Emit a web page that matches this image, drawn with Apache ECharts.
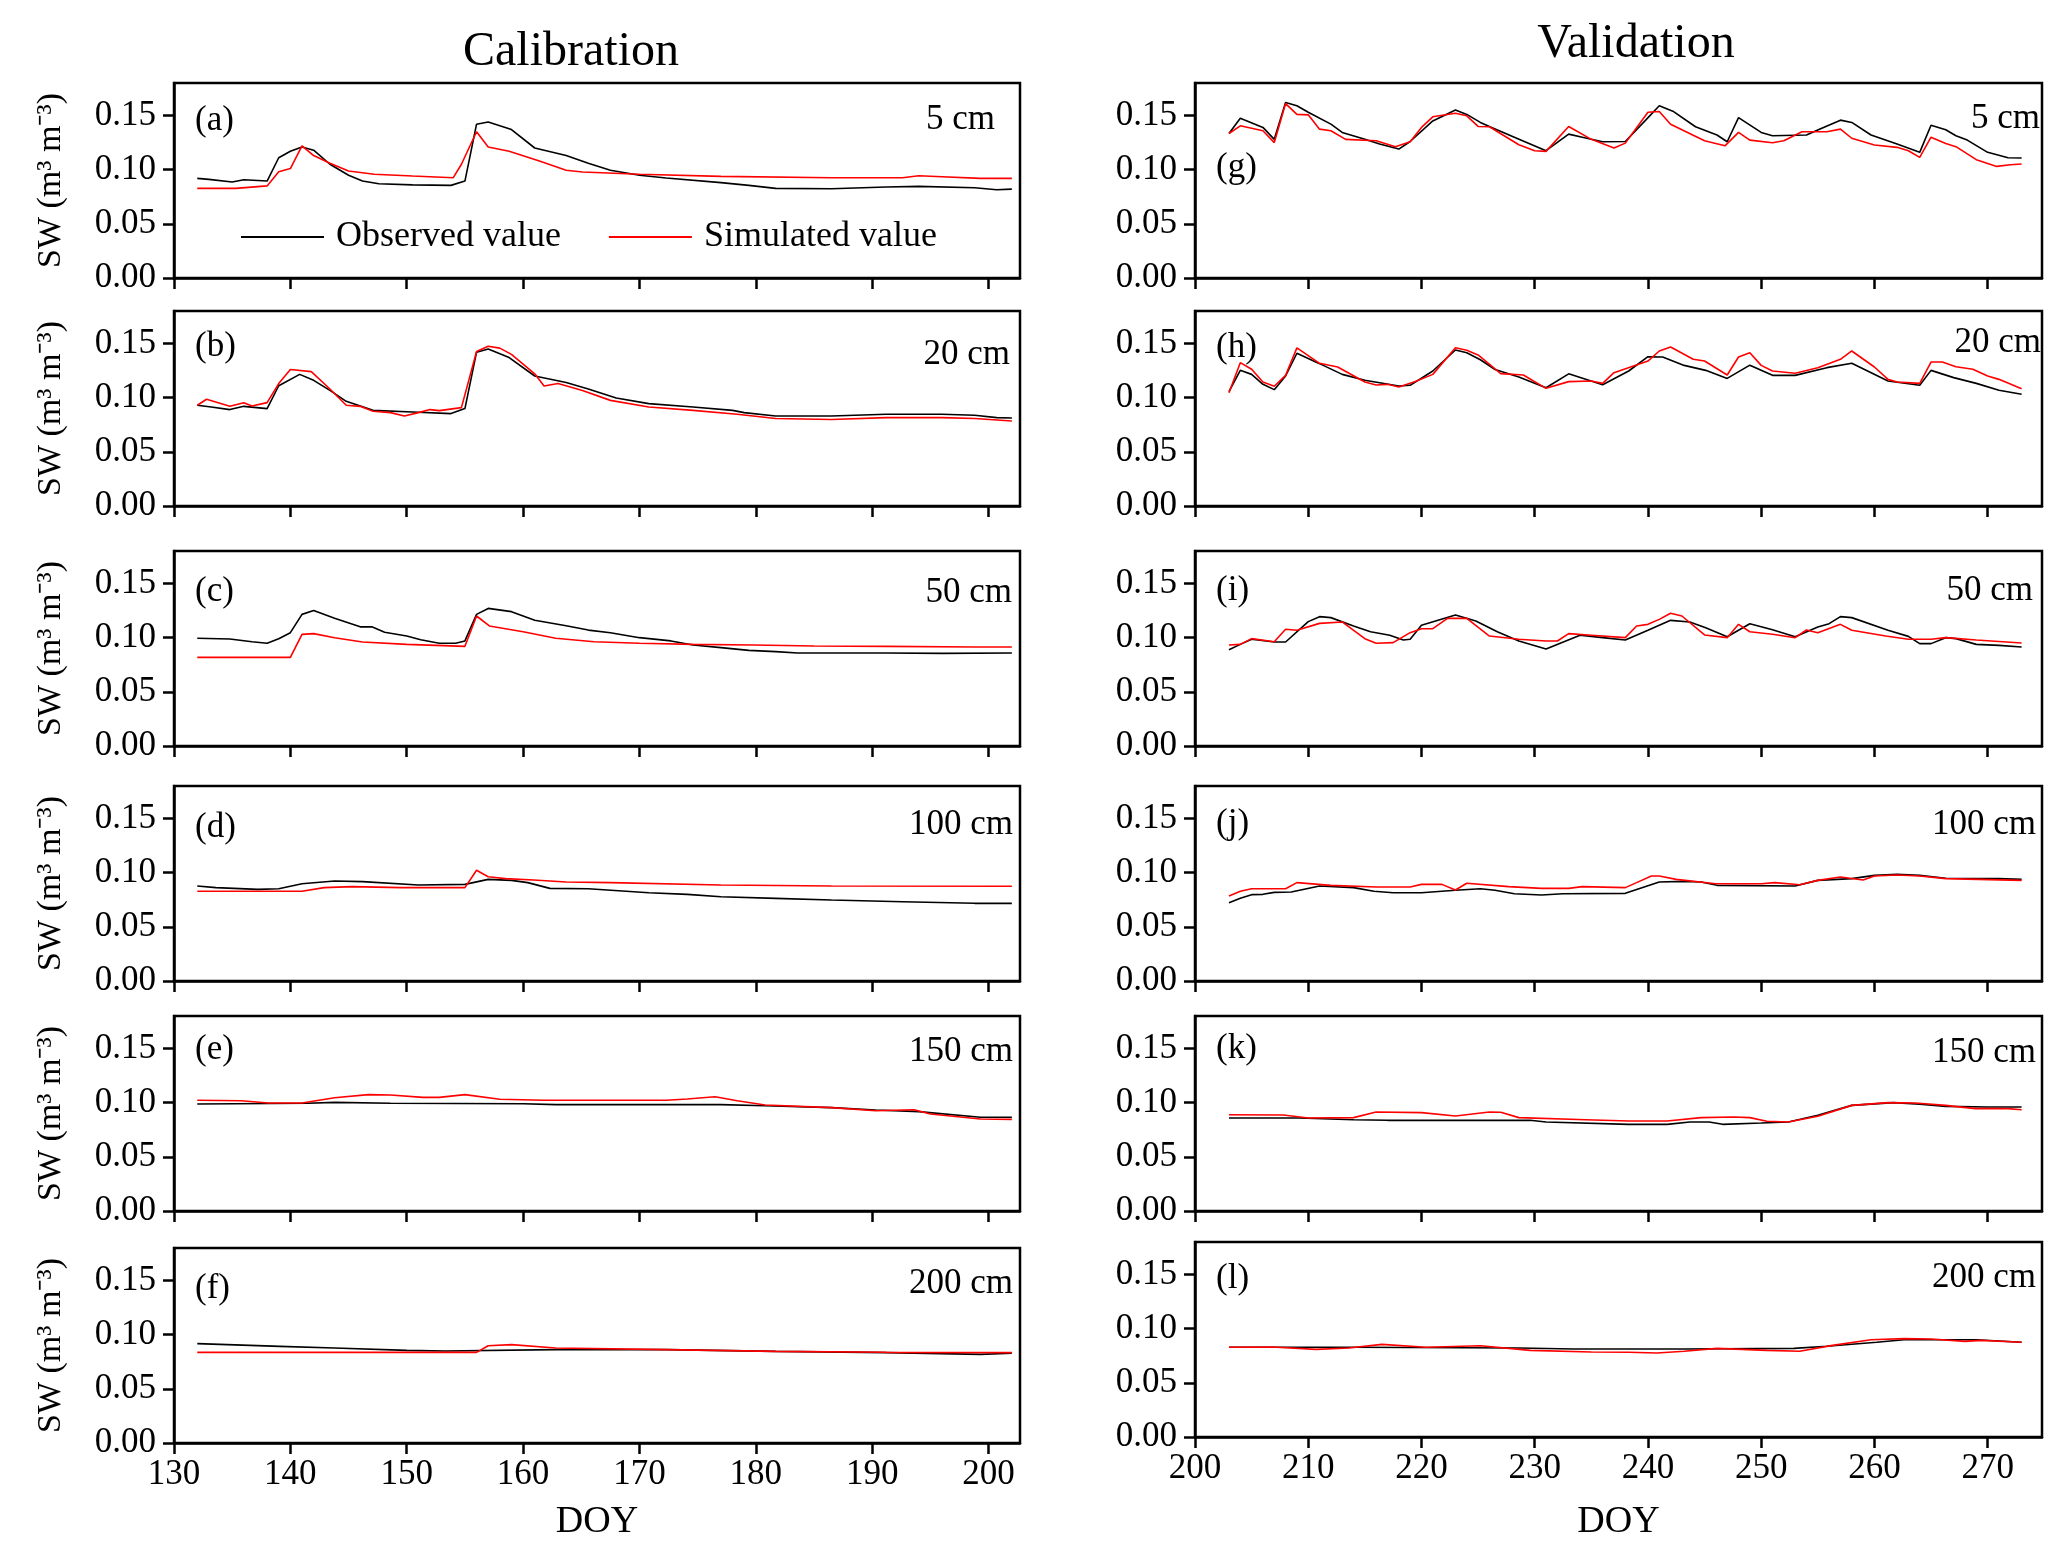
<!DOCTYPE html>
<html><head><meta charset="utf-8">
<script src="https://cdn.jsdelivr.net/npm/echarts@6/dist/echarts.min.js"></script>
<style>html,body{margin:0;padding:0;background:#fff}#c{width:2067px;height:1558px}</style>
</head><body><div id="c"></div>
<script>
// ---------- tick labels & categories ----------
const calDOYTicks = [130,140,150,160,170,180,190,200];
const valDOYTicks = [200,210,220,230,240,250,260,270];
const swTicks = [0,0.05,0.10,0.15];
const depths = ['5 cm','20 cm','50 cm','100 cm','150 cm','200 cm'];
const calLetters = ['(a)','(b)','(c)','(d)','(e)','(f)'];
const valLetters = ['(g)','(h)','(i)','(j)','(k)','(l)'];

// ---------- Calibration: observed / simulated [DOY, SW] ----------
const calObs5 = [[132,0.092],[133,0.091],[135,0.0886],[136,0.0907],[138,0.0895],[139,0.111],[140,0.117],[141,0.121],[142,0.118],[143.4,0.105],[145,0.0948],[146.2,0.0895],[147.6,0.087],[150.5,0.086],[153.8,0.0855],[155,0.0895],[156,0.142],[157,0.144],[159,0.137],[161,0.120],[163.7,0.113],[165.6,0.106],[167.5,0.0994],[170,0.0948],[172.3,0.0923],[177,0.088],[179.4,0.0855],[181.7,0.0827],[186.5,0.0824],[191.2,0.084],[194,0.0846],[198.8,0.0833],[200.7,0.0815],[202,0.082]];
const calSim5 = [[132,0.0827],[135.3,0.0827],[138,0.085],[139,0.098],[140,0.101],[141,0.122],[142,0.113],[143.4,0.106],[145,0.0988],[147.2,0.0957],[150.5,0.0941],[154,0.0926],[154.7,0.105],[156,0.135],[157,0.121],[158.8,0.117],[161.4,0.108],[163.7,0.0994],[165.1,0.0978],[170,0.0957],[177,0.0938],[186.5,0.0926],[192.6,0.0926],[194,0.0944],[196,0.0935],[199.3,0.092],[202,0.092]];
const calObs20 = [[132,0.093],[133.2,0.0914],[134.8,0.089],[136,0.092],[138,0.0899],[139,0.111],[140.8,0.1215],[142,0.116],[143.4,0.1067],[144.8,0.0966],[147.1,0.0883],[150.5,0.0868],[153.8,0.0853],[155,0.0899],[156,0.142],[157,0.145],[158.8,0.137],[161,0.120],[163.7,0.114],[165.6,0.108],[168,0.0997],[170.8,0.0945],[174.6,0.0914],[178,0.0883],[179,0.0862],[181.7,0.0831],[186.5,0.0831],[191.2,0.0847],[196,0.0847],[198.8,0.0837],[200.7,0.0816],[202,0.0813]];
const calSim20 = [[132,0.093],[132.8,0.0985],[134.8,0.092],[136,0.0954],[136.7,0.0923],[138,0.0954],[139,0.113],[140,0.126],[141.8,0.124],[143.4,0.108],[144.8,0.093],[146,0.092],[147.1,0.0874],[148.6,0.0862],[149.8,0.0831],[151,0.0862],[152,0.089],[152.8,0.088],[154.7,0.0908],[156,0.1426],[157,0.1475],[158,0.1457],[159,0.140],[161,0.122],[161.8,0.1107],[163,0.113],[165.1,0.1067],[167.5,0.0975],[170.8,0.0914],[174.6,0.0883],[178.4,0.0847],[181.7,0.0807],[186.5,0.0798],[191.2,0.0816],[196,0.0816],[198.8,0.0807],[202,0.0785]];
const calObs50 = [[132,0.0994],[134.8,0.0988],[136.7,0.0963],[138,0.0948],[139,0.099],[140,0.1046],[141,0.1215],[142,0.125],[143.8,0.118],[146,0.110],[147,0.110],[148.1,0.105],[150,0.1015],[151.2,0.098],[152.8,0.0948],[154.2,0.0948],[155,0.097],[156,0.1215],[157,0.127],[159,0.124],[161,0.116],[163.7,0.111],[165.6,0.107],[167.5,0.1046],[170,0.100],[172.7,0.097],[174.6,0.0932],[177,0.0908],[179.4,0.0883],[181.7,0.0871],[183.6,0.0858],[191.2,0.0858],[196,0.0855],[202,0.0858]];
const calSim50 = [[132,0.0818],[140,0.0818],[141,0.103],[142,0.1037],[143.8,0.100],[146.2,0.096],[150,0.0938],[155,0.092],[156,0.12],[157.1,0.1108],[160,0.1055],[162.8,0.0994],[166.1,0.0963],[170,0.0948],[174.6,0.0938],[179.8,0.0932],[185,0.0923],[191.2,0.092],[198.8,0.0914],[202,0.0914]];
const calObs100 = [[132,0.0877],[133.6,0.0862],[137.2,0.0846],[139,0.0852],[141,0.0898],[143.8,0.0923],[146.2,0.0917],[151,0.0886],[155,0.0892],[157,0.0938],[159,0.0929],[160.4,0.0908],[162.3,0.0855],[165.6,0.0852],[170.8,0.0815],[174.1,0.080],[177,0.0778],[181.7,0.0763],[186.5,0.0748],[192.6,0.0732],[198.8,0.0717],[202,0.0717]];
const calSim100 = [[132,0.0828],[141,0.0828],[142.9,0.0862],[145.3,0.0871],[149.5,0.0862],[155,0.0862],[156,0.1022],[157,0.0963],[158.5,0.0945],[160.9,0.0932],[163.7,0.0914],[167.5,0.0908],[177,0.0886],[186.5,0.0877],[202,0.0874]];
const calObs150 = [[132,0.0988],[141.5,0.0994],[143.8,0.1003],[148.6,0.0994],[160,0.099],[162.8,0.0982],[177,0.0982],[180.8,0.0972],[186.5,0.0954],[190.3,0.0932],[194,0.0917],[199.3,0.0865],[202,0.0865]];
const calSim150 = [[132,0.1022],[135.8,0.1018],[138.1,0.0997],[141,0.0997],[143.8,0.1046],[146.7,0.1074],[148.6,0.1071],[151.4,0.1049],[152.8,0.1049],[155,0.1074],[158,0.1031],[161.8,0.1022],[172.3,0.1022],[174.1,0.1034],[176.5,0.1055],[178.4,0.1018],[180.8,0.0978],[186.5,0.0954],[190.3,0.0926],[193.6,0.0935],[195,0.0895],[199.3,0.0849],[202,0.0846]];
const calObs200 = [[132,0.0917],[139.1,0.0892],[143.8,0.0877],[150,0.0855],[153.3,0.0849],[162.8,0.0862],[172.3,0.0862],[181.7,0.0846],[191.2,0.0834],[199.3,0.0818],[202,0.0828]];
const calSim200 = [[132,0.0837],[156,0.0837],[157,0.0898],[159,0.0908],[162.8,0.0877],[172.3,0.0862],[181.7,0.0846],[191.2,0.0837],[202,0.0834]];

// ---------- Validation: observed / simulated [DOY, SW] ----------
const valObs5 = [[203,0.1334],[204,0.1475],[206,0.139],[207,0.128],[208,0.162],[209,0.159],[210,0.153],[212,0.142],[213,0.1344],[215,0.128],[216.3,0.1236],[218,0.119],[219,0.126],[221,0.145],[223,0.155],[224,0.151],[225.2,0.1436],[226.2,0.139],[228.2,0.130],[231,0.1175],[233,0.1328],[234.2,0.130],[236,0.1258],[238,0.126],[239.8,0.1457],[241,0.159],[242.2,0.154],[244.2,0.1396],[246.1,0.132],[247,0.1258],[248,0.148],[250,0.1344],[251,0.1313],[254,0.132],[255.3,0.138],[257,0.1457],[258,0.1436],[259.7,0.132],[262,0.1236],[264,0.116],[265,0.141],[266.3,0.1368],[267.2,0.1313],[268.2,0.1273],[270,0.116],[271.8,0.111],[273,0.1107]];
const valSim5 = [[203,0.1334],[204,0.1405],[206,0.1359],[207,0.125],[208,0.161],[209,0.151],[210,0.1506],[211,0.1374],[212,0.1359],[213.3,0.128],[216,0.1267],[217.7,0.1212],[219,0.1258],[220,0.139],[221,0.1488],[223,0.152],[224,0.1497],[225,0.1399],[226,0.1396],[228.6,0.123],[230,0.1175],[231,0.1169],[233,0.1399],[235,0.128],[237,0.12],[238,0.1245],[240,0.153],[241,0.1537],[242,0.142],[245,0.1267],[246.8,0.122],[248,0.1344],[249,0.1273],[251,0.1248],[252,0.1267],[253.6,0.135],[255.8,0.135],[257,0.1374],[258,0.129],[260,0.1227],[262,0.1206],[263,0.1175],[264,0.1113],[265,0.130],[266.3,0.1242],[267.2,0.1212],[269,0.1092],[270.8,0.103],[272,0.1046],[273,0.1052]];
const valObs20 = [[203,0.1055],[204,0.1252],[205,0.1215],[206,0.1123],[207,0.1074],[208,0.12],[209,0.141],[211,0.1314],[213,0.1215],[215,0.116],[218,0.1108],[219,0.1114],[221,0.1246],[223,0.144],[224,0.1415],[225.2,0.135],[226.5,0.126],[228.6,0.119],[231,0.1092],[233,0.122],[236,0.112],[238.3,0.1246],[240,0.1378],[241.3,0.1375],[243.2,0.1298],[245.1,0.1252],[247,0.1178],[249,0.130],[251,0.1206],[253,0.1206],[255.8,0.1277],[258,0.1317],[261.2,0.1154],[264,0.1114],[265,0.1252],[267,0.1185],[269,0.1132],[271,0.1068],[273,0.1031]];
const valSim20 = [[203,0.1046],[204,0.1323],[205,0.1262],[206,0.1145],[207,0.1105],[208,0.1206],[209,0.146],[211,0.1317],[212.6,0.1283],[215,0.1145],[216,0.1117],[217,0.1123],[218,0.1098],[219.4,0.1148],[221,0.1215],[223,0.146],[224,0.1437],[225,0.1394],[227,0.1222],[229,0.1209],[231,0.1086],[233,0.1148],[235,0.1154],[236,0.1132],[237,0.1231],[240,0.1338],[241,0.1431],[242,0.1468],[244,0.1354],[245,0.1338],[247,0.1209],[248,0.1375],[249,0.1415],[250,0.1298],[251,0.1246],[253,0.1225],[255,0.1277],[257,0.1354],[258,0.1431],[260,0.1283],[261.2,0.1169],[262,0.1145],[264,0.1132],[265,0.1329],[266,0.1329],[267.2,0.1286],[268.7,0.1262],[270,0.12],[271,0.1169],[273,0.1083]];
const valObs50 = [[203,0.0889],[204,0.0938],[205,0.0985],[207,0.096],[208,0.096],[210,0.1148],[211,0.1194],[212,0.1185],[214,0.1108],[215.5,0.1055],[217.2,0.1022],[218.4,0.0978],[219,0.0985],[220,0.1114],[223,0.1209],[224.8,0.1154],[226.7,0.1055],[228.6,0.0969],[231,0.0895],[234,0.1022],[236,0.100],[238,0.0978],[240,0.1068],[242,0.116],[243.7,0.1145],[245.1,0.1092],[247,0.1009],[249,0.1129],[251,0.1074],[253,0.1009],[255,0.1098],[256,0.1129],[257,0.1194],[258,0.1185],[261.2,0.1068],[263,0.1012],[264,0.0945],[265,0.0945],[266.3,0.100],[267.2,0.0991],[269,0.0938],[271,0.0929],[273,0.0914]];
const valSim50 = [[203,0.0932],[204,0.0938],[205,0.0991],[207,0.0963],[208,0.1077],[209,0.1068],[211,0.1132],[213,0.1145],[215,0.0991],[216,0.0948],[217.5,0.0954],[219,0.1046],[220,0.1083],[221,0.1083],[222.3,0.1178],[224,0.1178],[226,0.1015],[228.6,0.0985],[231,0.0969],[232,0.0969],[233,0.1037],[235,0.1022],[238,0.100],[239,0.1108],[240,0.1123],[241,0.1169],[242,0.1225],[243,0.12],[245,0.1025],[247,0.100],[248,0.1123],[249,0.1055],[251,0.1031],[253,0.100],[254,0.1071],[255,0.1046],[257,0.1123],[258,0.1068],[261,0.1015],[263,0.0985],[265,0.0985],[266.3,0.100],[269,0.0978],[273,0.0951]];
const valObs100 = [[203,0.0723],[204,0.0763],[205,0.0797],[206,0.080],[207,0.0818],[208.5,0.0822],[211,0.0877],[214,0.0862],[215.8,0.0828],[217.5,0.0815],[220,0.0815],[223,0.0837],[225.2,0.0852],[226.5,0.0837],[228.2,0.0806],[230.6,0.0794],[232.5,0.0806],[238,0.0809],[241,0.0914],[243.2,0.092],[244.7,0.0914],[246.1,0.0883],[253,0.0877],[255,0.0929],[258,0.0945],[260,0.0975],[262,0.0985],[264,0.0975],[266.3,0.0948],[271,0.0945],[273,0.0938]];
const valSim100 = [[203,0.0785],[204,0.0828],[205,0.0852],[208,0.0852],[209,0.0908],[212,0.0883],[216,0.0868],[219,0.0868],[220,0.0892],[221.8,0.0892],[223,0.084],[224,0.0902],[227.7,0.0871],[230.6,0.0855],[233,0.0855],[234.2,0.0871],[238,0.0862],[239,0.0908],[240.3,0.0969],[241,0.0969],[242.5,0.0938],[246,0.0898],[250,0.0898],[251.2,0.0908],[253.4,0.0889],[255,0.0929],[257,0.096],[259,0.0932],[260,0.0969],[262,0.0978],[264,0.0969],[266.3,0.0945],[273,0.0929]];
const valObs150 = [[203,0.0858],[209.2,0.0858],[214,0.0843],[217,0.0837],[229.6,0.0837],[231,0.0822],[238.3,0.080],[241.7,0.080],[243.7,0.0822],[245.4,0.0822],[246.6,0.080],[250,0.0812],[252.4,0.0822],[255,0.0883],[258,0.0975],[261.7,0.100],[264,0.0985],[266.3,0.0966],[270,0.096],[273,0.096]];
const valSim150 = [[203,0.0889],[207.8,0.0886],[210,0.0858],[214,0.0862],[216,0.0914],[220,0.0908],[223,0.0877],[226,0.0914],[227,0.0911],[228.6,0.0862],[234.5,0.0843],[238.3,0.0831],[241.7,0.0831],[244.7,0.0862],[247.6,0.0868],[249,0.0862],[250.5,0.0828],[252.4,0.0822],[255,0.0874],[258,0.0975],[261.2,0.100],[263.6,0.0997],[266.3,0.0975],[268.9,0.0945],[271.8,0.0945],[273,0.0935]];
const valObs200 = [[203,0.0828],[214,0.0828],[228.6,0.0822],[233.5,0.0812],[243.2,0.0812],[252.9,0.0818],[255.8,0.0837],[260.2,0.0874],[262.6,0.0898],[267.5,0.0898],[269,0.0898],[273,0.0874]];
const valSim200 = [[203,0.0828],[206.8,0.0831],[210.7,0.0809],[213.6,0.0822],[216.5,0.0855],[220.4,0.0828],[225.2,0.0843],[229.6,0.080],[235,0.0785],[238.3,0.0782],[240.8,0.0775],[243.2,0.0791],[246.1,0.0818],[250.5,0.080],[253.4,0.0791],[256.3,0.0846],[259.7,0.0898],[262.6,0.0908],[265,0.0905],[268,0.0883],[269.4,0.0892],[273,0.0874]];

const calObs = [calObs5,calObs20,calObs50,calObs100,calObs150,calObs200];
const calSim = [calSim5,calSim20,calSim50,calSim100,calSim150,calSim200];
const valObs = [valObs5,valObs20,valObs50,valObs100,valObs150,valObs200];
const valSim = [valSim5,valSim20,valSim50,valSim100,valSim150,valSim200];

// ---------- layout (pixels) ----------
const FONT = "'Liberation Serif','Times New Roman',Times,serif";
const calTops = [83,311,551,786,1016,1248];
const valTops = [83,311,551,786,1016,1242];
const PH = 195;
const calLeft = 174, calW = 846, valLeft = 1195, valW = 847;
const calLetterDy = [38,36,41,42,34,41], calDepthDy = [37,44,42,39,36,36];
const valLetterDy = [85,37,40,38,33,37], valDepthDy = [36,32,40,39,37,36];
const calDepthRight = [995,1010,1012,1013,1013,1013];
const valDepthRight = [2040,2041,2033,2036,2036,2036];

const grids = [], xAxes = [], yAxes = [], series = [], graphics = [];
function addPanel(col, i) {
  const isCal = col === 0;
  const top = isCal ? calTops[i] : valTops[i];
  const idx = grids.length;
  grids.push({left: isCal ? calLeft : valLeft, top: top, width: isCal ? calW : valW, height: PH,
    show: true, borderColor: '#000', borderWidth: 2.5, backgroundColor: 'transparent'});
  const ticks = isCal ? calDOYTicks : valDOYTicks;
  xAxes.push({type: 'value', gridIndex: idx, min: isCal ? 130 : 200, max: isCal ? 202.7 : 274.8,
    axisLine: {show: true, onZero: false, lineStyle: {color: '#000', width: 2.5}},
    axisTick: {show: true, inside: false, length: 11, lineStyle: {color: '#000', width: 2.5}, customValues: ticks},
    axisLabel: {show: i === 5, customValues: ticks, margin: 14, fontSize: 35, fontFamily: FONT, color: '#000'},
    splitLine: {show: false},
    name: i === 5 ? 'DOY' : '', nameLocation: 'middle', nameGap: isCal ? 60 : 66,
    nameTextStyle: {fontSize: 38, fontFamily: FONT, color: '#000'}});
  yAxes.push({type: 'value', gridIndex: idx, min: 0, max: 0.18,
    axisLine: {show: true, onZero: false, lineStyle: {color: '#000', width: 2.5}},
    axisTick: {show: true, inside: false, length: 11, lineStyle: {color: '#000', width: 2.5}, customValues: swTicks},
    axisLabel: {customValues: swTicks, formatter: v => v.toFixed(2), margin: 18, fontSize: 35, fontFamily: FONT, color: '#000'},
    splitLine: {show: false},
    name: isCal ? 'SW (m³ m⁻³)' : '', nameLocation: 'middle', nameGap: 106, nameRotate: 90,
    nameTextStyle: {fontSize: 34, fontFamily: FONT, color: '#000'}});
  const obs = isCal ? calObs[i] : valObs[i];
  const sim = isCal ? calSim[i] : valSim[i];
  series.push({type: 'line', name: 'Observed value', xAxisIndex: idx, yAxisIndex: idx, data: obs,
    showSymbol: false, symbol: 'none', lineStyle: {color: '#000', width: 1.6}, itemStyle: {color: '#000'}});
  series.push({type: 'line', name: 'Simulated value', xAxisIndex: idx, yAxisIndex: idx, data: sim,
    showSymbol: false, symbol: 'none', lineStyle: {color: '#ff0000', width: 1.6}, itemStyle: {color: '#ff0000'}});
  const letter = isCal ? calLetters[i] : valLetters[i];
  graphics.push({type: 'text', x: (isCal ? calLeft : valLeft) + 21, y: top + (isCal ? calLetterDy[i] : valLetterDy[i]),
    style: {text: letter, fontSize: 35, fontFamily: FONT, fill: '#000', align: 'left', verticalAlign: 'middle'}});
  graphics.push({type: 'text', x: isCal ? calDepthRight[i] : valDepthRight[i], y: top + (isCal ? calDepthDy[i] : valDepthDy[i]),
    style: {text: depths[i], fontSize: 35, fontFamily: FONT, fill: '#000', align: 'right', verticalAlign: 'middle'}});
}
for (let i = 0; i < 6; i++) addPanel(0, i);
for (let i = 0; i < 6; i++) addPanel(1, i);

graphics.push({type: 'text', x: 571, y: 52, style: {text: 'Calibration', fontSize: 48, fontFamily: FONT, fill: '#000', align: 'center', verticalAlign: 'middle'}});
graphics.push({type: 'text', x: 1636, y: 44, style: {text: 'Validation', fontSize: 48, fontFamily: FONT, fill: '#000', align: 'center', verticalAlign: 'middle'}});

const chart = echarts.init(document.getElementById('c'), null, {renderer: 'canvas'});
chart.setOption({
  backgroundColor: '#fff',
  animation: false,
  textStyle: {fontFamily: FONT, color: '#000'},
  grid: grids, xAxis: xAxes, yAxis: yAxes, series: series,
  legend: {data: [{name: 'Observed value', icon: 'rect'}, {name: 'Simulated value', icon: 'rect'}],
    left: 241, top: 219, itemWidth: 83, itemHeight: 2,
    itemGap: 48, padding: 0, textStyle: {fontSize: 36, fontFamily: FONT, color: '#000', padding: [0,0,0,7]}},
  graphic: graphics
});
</script></body></html>
